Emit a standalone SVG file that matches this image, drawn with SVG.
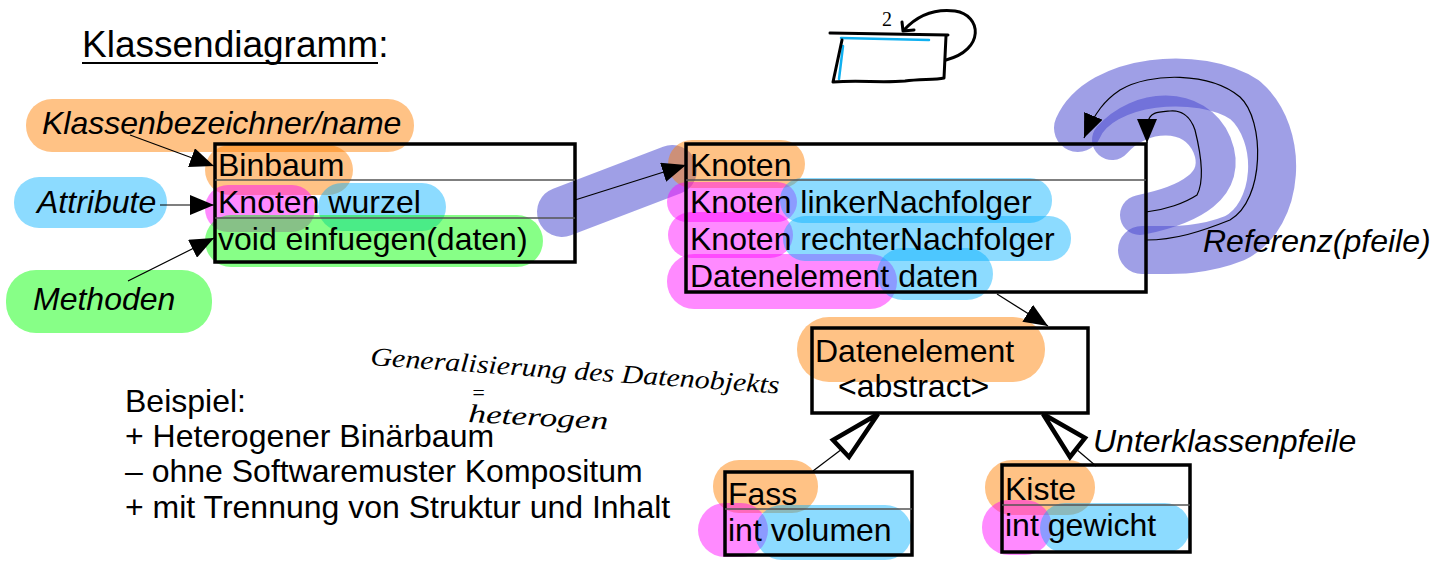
<svg xmlns="http://www.w3.org/2000/svg" width="1450" height="562" viewBox="0 0 1450 562">
<defs>
<style>
.t{font-family:"Liberation Sans",Arial,sans-serif;font-size:32px;fill:#000}
.i{font-style:italic}
.box{fill:none;stroke:#000;stroke-width:3.5}
.div{stroke:#555;stroke-width:1.5}
.ln{stroke:#000;stroke-width:1.2;fill:none}
.or{fill:#ff8000;opacity:.48}
.pk{fill:#ff00ff;opacity:.46}
.bl{fill:#00b0ff;opacity:.45}
.gr{fill:#00ff00;opacity:.47}
.pu{fill:none;stroke:#4a4ad0;stroke-opacity:.53;stroke-linecap:round;stroke-linejoin:round}
.hw{font-family:"Liberation Serif","DejaVu Serif",serif;font-style:italic;font-size:26px;fill:#000}
.sk{fill:none;stroke:#000;stroke-width:3;stroke-linecap:round;stroke-linejoin:round}
.skb{fill:none;stroke:#10b0f0;stroke-width:2.5;stroke-linecap:round}
</style>
<marker id="ah" viewBox="0 0 24 20" refX="24" refY="10" markerWidth="24" markerHeight="20" markerUnits="userSpaceOnUse" orient="auto">
<path d="M0,0 L24,10 L0,20 Z" fill="#000"/>
</marker>
</defs>
<rect width="1450" height="562" fill="#fff"/>

<g id="highlights">
<rect class="or" x="26" y="99" width="388" height="53" rx="26"/>
<rect class="bl" x="14" y="177" width="153" height="51" rx="25"/>
<rect class="gr" x="6" y="270" width="206" height="63" rx="30"/>
<rect class="or" x="205" y="145" width="148" height="50" rx="25"/>
<rect class="pk" x="205" y="185" width="110" height="47" rx="23"/>
<rect class="bl" x="318" y="183" width="128" height="48" rx="24"/>
<rect class="gr" x="205" y="215" width="338" height="52" rx="26"/>
<path class="pu" d="M562,212 L672,170" stroke-width="50"/>
<rect class="or" x="668" y="140" width="137" height="48" rx="24"/>
<rect class="pk" x="667" y="182" width="130" height="40" rx="20"/>
<rect class="pk" x="668" y="212" width="125" height="46" rx="23"/>
<rect class="pk" x="667" y="254" width="230" height="55" rx="27"/>
<rect class="bl" x="780" y="178" width="272" height="45" rx="22"/>
<rect class="bl" x="783" y="216" width="288" height="45" rx="22"/>
<rect class="bl" x="877" y="248" width="116" height="52" rx="26"/>
<path class="pu" d="M1078,128 C1100,78 1200,70 1245,100 C1285,135 1280,215 1235,238 C1200,252 1170,250 1142,250" stroke-width="48"/>
<path class="pu" d="M1112,140 C1140,108 1195,105 1212,145 C1228,185 1190,205 1140,215" stroke-width="40"/>
<rect class="or" x="797" y="317" width="248" height="65" rx="32"/>
<rect class="or" x="713" y="460" width="105" height="53" rx="26"/>
<rect class="pk" x="698" y="503" width="70" height="54" rx="27"/>
<rect class="bl" x="755" y="505" width="157" height="55" rx="27"/>
<rect class="or" x="985" y="460" width="110" height="55" rx="27"/>
<rect class="pk" x="982" y="500" width="70" height="55" rx="27"/>
<rect class="bl" x="1040" y="503" width="150" height="50" rx="25"/>
</g>

<g id="title">
<text class="t" x="82" y="57" style="font-size:37px">Klassendiagramm:</text>
<line x1="82" y1="63" x2="378" y2="63" stroke="#000" stroke-width="2"/>
</g>

<g id="labels">
<text class="t i" x="42" y="134">Klassenbezeichner/name</text>
<text class="t i" x="37" y="213">Attribute</text>
<text class="t i" x="33" y="310">Methoden</text>
<text class="t i" x="1203" y="252">Referenz(pfeile)</text>
<text class="t i" x="1093" y="452">Unterklassenpfeile</text>
</g>

<g id="node-binbaum">
<rect class="box" x="215" y="144" width="360" height="118"/>
<line class="div" x1="215" y1="180" x2="575" y2="180"/>
<line class="div" x1="215" y1="218" x2="575" y2="218"/>
<text class="t" x="218" y="176">Binbaum</text>
<text class="t" x="218" y="213">Knoten wurzel</text>
<text class="t" x="218" y="250">void einfuegen(daten)</text>
</g>

<g id="node-knoten">
<rect class="box" x="686" y="144" width="460" height="148"/>
<line class="div" x1="686" y1="180" x2="1146" y2="180"/>
<text class="t" x="690" y="176">Knoten</text>
<text class="t" x="690" y="213">Knoten linkerNachfolger</text>
<text class="t" x="690" y="250">Knoten rechterNachfolger</text>
<text class="t" x="690" y="287">Datenelement daten</text>
</g>

<g id="node-datenelement">
<rect class="box" x="812" y="328" width="276" height="85"/>
<text class="t" x="815" y="362">Datenelement</text>
<text class="t" x="838" y="397">&lt;abstract&gt;</text>
</g>

<g id="node-fass">
<rect class="box" x="725" y="472" width="187" height="83"/>
<line class="div" x1="725" y1="509" x2="912" y2="509"/>
<text class="t" x="728" y="505">Fass</text>
<text class="t" x="728" y="541">int volumen</text>
</g>

<g id="node-kiste">
<rect class="box" x="1002" y="465" width="188" height="87"/>
<line class="div" x1="1002" y1="505" x2="1190" y2="505"/>
<text class="t" x="1005" y="500">Kiste</text>
<text class="t" x="1005" y="536">int gewicht</text>
</g>

<g id="connectors">
<line class="ln" x1="130" y1="135" x2="214" y2="166" marker-end="url(#ah)"/>
<line class="ln" x1="160" y1="205" x2="214" y2="205" marker-end="url(#ah)"/>
<line class="ln" x1="128" y1="281" x2="214" y2="238" marker-end="url(#ah)"/>
<line class="ln" x1="575" y1="200" x2="686" y2="165" marker-end="url(#ah)"/>
<path class="ln" d="M1146,240 C1175,240 1200,232 1230,220 C1265,200 1265,120 1240,97 C1210,72 1150,72 1120,90 C1105,100 1095,112 1084,138" marker-end="url(#ah)"/>
<path class="ln" d="M1146,212 C1165,210 1185,203 1197,195 C1205,180 1200,150 1195,130 C1190,115 1180,110 1170,111 C1158,112 1150,112 1148,122 C1147,128 1147,134 1147,143" marker-end="url(#ah)"/>
<line class="ln" x1="997" y1="294" x2="1048" y2="326" marker-end="url(#ah)"/>
<line class="ln" x1="813" y1="471" x2="842" y2="449"/>
<path d="M878,414 L833,440 L849,457 Z" fill="#fff" stroke="#000" stroke-width="4.5" stroke-linejoin="miter"/>
<line class="ln" x1="1096" y1="466" x2="1076" y2="449"/>
<path d="M1043,414 L1085,438 L1070,457 Z" fill="#fff" stroke="#000" stroke-width="4.5" stroke-linejoin="miter"/>
</g>

<g id="sketch">
<path class="skb" d="M841,38 L929,40"/>
<path class="skb" d="M843,46 L839,79"/>
<path class="sk" d="M830,33 L948,35"/>
<path class="sk" d="M842,40 L833,82 C860,80 880,83 905,81 C920,79 935,80 944,78 L946,36"/>
<path class="sk" d="M946,60 C985,50 982,15 955,11 C930,8 915,18 904,30"/>
<path class="sk" d="M902,22 L903,31 L914,30" stroke-width="2.5"/>
<text class="hw" x="882" y="26" style="font-size:20px;font-style:normal">2</text>
</g>

<g id="notes">
<text class="hw" x="370" y="365" transform="rotate(4 370 365)" textLength="410" lengthAdjust="spacingAndGlyphs">Generalisierung des Datenobjekts</text>
<text class="hw" x="471" y="400" style="font-size:22px">=</text>
<text class="hw" x="468" y="422" transform="rotate(3 468 422)" textLength="140" lengthAdjust="spacingAndGlyphs">heterogen</text>
<text class="t" x="125" y="412">Beispiel:</text>
<text class="t" x="125" y="447">+ Heterogener Binärbaum</text>
<text class="t" x="125" y="482">– ohne Softwaremuster Kompositum</text>
<text class="t" x="125" y="518">+ mit Trennung von Struktur und Inhalt</text>
</g>
</svg>
